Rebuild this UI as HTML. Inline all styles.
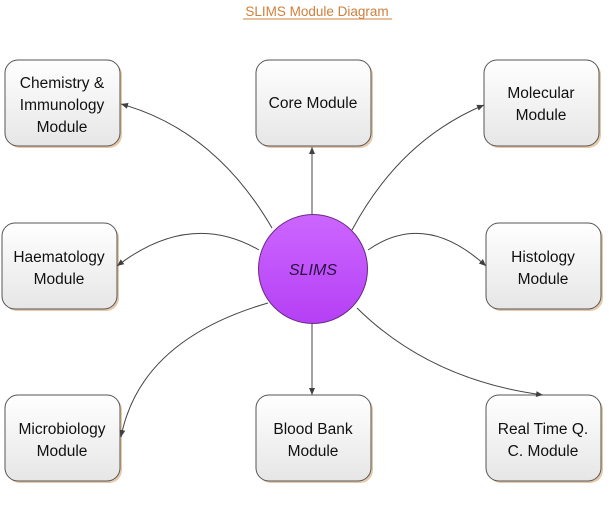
<!DOCTYPE html>
<html><head><meta charset="utf-8"><style>
body{margin:0;background:#fff;}
svg text{font-family:"Liberation Sans",sans-serif;}
</style></head><body>
<svg width="609" height="502" viewBox="0 0 609 502" xmlns="http://www.w3.org/2000/svg">
<defs>
<linearGradient id="bg" x1="0" y1="0" x2="0" y2="1"><stop offset="0" stop-color="#ffffff"/><stop offset="1" stop-color="#e6e6e6"/></linearGradient>
<linearGradient id="cg" x1="0" y1="0" x2="0" y2="1"><stop offset="0" stop-color="#cc66ff"/><stop offset="1" stop-color="#b540f5"/></linearGradient>
<marker id="a" markerWidth="8" markerHeight="8" refX="7" refY="4" orient="auto" markerUnits="userSpaceOnUse"><path d="M0,1 L7,4 L0,7 z" fill="#404040"/></marker>
</defs>
<text x="317" y="16" font-size="13.5" fill="#d0803c" text-anchor="middle">SLIMS Module Diagram</text>
<line x1="243" y1="19" x2="392" y2="19" stroke="#d0803c" stroke-width="1"/>
<g stroke="#555" stroke-width="1" fill="url(#bg)">
<rect x="7" y="62" width="115" height="86" rx="13" fill="#e8c8a8" stroke="none"/>
<rect x="5" y="60" width="115" height="86" rx="13"/>
<rect x="258" y="62" width="115" height="86" rx="13" fill="#e8c8a8" stroke="none"/>
<rect x="256" y="60" width="115" height="86" rx="13"/>
<rect x="486" y="62" width="115" height="86" rx="13" fill="#e8c8a8" stroke="none"/>
<rect x="484" y="60" width="115" height="86" rx="13"/>
<rect x="4" y="225" width="115" height="86" rx="13" fill="#e8c8a8" stroke="none"/>
<rect x="2" y="223" width="115" height="86" rx="13"/>
<rect x="488" y="225" width="115" height="86" rx="13" fill="#e8c8a8" stroke="none"/>
<rect x="486" y="223" width="115" height="86" rx="13"/>
<rect x="7" y="397" width="115" height="86" rx="13" fill="#e8c8a8" stroke="none"/>
<rect x="5" y="395" width="115" height="86" rx="13"/>
<rect x="258" y="397" width="115" height="86" rx="13" fill="#e8c8a8" stroke="none"/>
<rect x="256" y="395" width="115" height="86" rx="13"/>
<rect x="488" y="397" width="115" height="86" rx="13" fill="#e8c8a8" stroke="none"/>
<rect x="486" y="395" width="115" height="86" rx="13"/>
</g>
<g stroke="#444" stroke-width="1" fill="none" marker-end="url(#a)">
<path d="M272,228 Q215,130 121,104"/>
<line x1="312" y1="215" x2="312" y2="147"/>
<path d="M352,230 Q400,140 484,105"/>
<path d="M259,250 Q190,210 117,266"/>
<path d="M368,250 Q425,210 486,266"/>
<path d="M268,303 Q140,340 121,437"/>
<line x1="312" y1="324" x2="312" y2="395"/>
<path d="M357,308 Q430,380 543,395"/>
</g>
<circle cx="313" cy="269" r="54.5" fill="url(#cg)" stroke="#6a2a80" stroke-width="1"/>
<text x="313" y="275" font-size="16" font-style="italic" fill="#2a1040" text-anchor="middle">SLIMS</text>
<g font-size="15.5" fill="#111" text-anchor="middle">
<text x="62" y="88">Chemistry &amp;</text><text x="62" y="110">Immunology</text><text x="62" y="132">Module</text>
<text x="313" y="108">Core Module</text>
<text x="541" y="98">Molecular</text><text x="541" y="120">Module</text>
<text x="59" y="262">Haematology</text><text x="59" y="284">Module</text>
<text x="543" y="262">Histology</text><text x="543" y="284">Module</text>
<text x="62" y="434">Microbiology</text><text x="62" y="456">Module</text>
<text x="313" y="434">Blood Bank</text><text x="313" y="456">Module</text>
<text x="543" y="434">Real Time Q.</text><text x="543" y="456">C. Module</text>
</g>
</svg>
</body></html>
